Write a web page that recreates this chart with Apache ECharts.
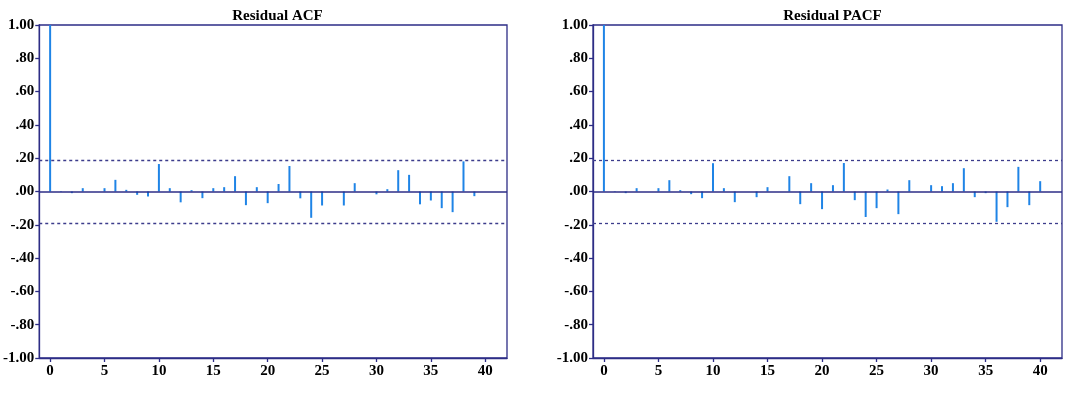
<!DOCTYPE html>
<html>
<head>
<meta charset="utf-8">
<script src="https://cdn.jsdelivr.net/npm/echarts@6/dist/echarts.min.js"></script>
<style>
  html, body { margin: 0; padding: 0; background: #fff; }
  #chart { width: 1070px; height: 397px; }
</style>
</head>
<body>
<div id="chart"></div>
<script>
// values
const acfLags = [0, 1, 2, 3, 4, 5, 6, 7, 8, 9, 10, 11, 12, 13, 14, 15, 16, 17, 18, 19,
  20, 21, 22, 23, 24, 25, 26, 27, 28, 29, 30, 31, 32, 33, 34, 35, 36, 37, 38, 39];
const acfValues = [1.00, 0.003, -0.01, 0.02, 0.0, 0.02, 0.07, 0.01, -0.02, -0.03,
  0.165, 0.02, -0.065, 0.008, -0.04, 0.02, 0.026, 0.092, -0.082, 0.026,
  -0.07, 0.045, 0.153, -0.041, -0.158, -0.084, 0.0, -0.084, 0.05, 0.0,
  -0.017, 0.014, 0.128, 0.10, -0.077, -0.054, -0.10, -0.124, 0.181, -0.028];

const pacfLags = [0, 1, 2, 3, 4, 5, 6, 7, 8, 9, 10, 11, 12, 13, 14, 15, 16, 17, 18, 19,
  20, 21, 22, 23, 24, 25, 26, 27, 28, 29, 30, 31, 32, 33, 34, 35, 36, 37, 38, 39, 40];
const pacfValues = [1.00, 0.003, -0.01, 0.02, 0.0, 0.02, 0.068, 0.008, -0.016, -0.04,
  0.17, 0.02, -0.064, 0.0, -0.034, 0.026, 0.0, 0.092, -0.076, 0.05,
  -0.106, 0.038, 0.171, -0.052, -0.153, -0.10, 0.012, -0.136, 0.068, 0.0,
  0.038, 0.032, 0.05, 0.14, -0.034, -0.01, -0.182, -0.094, 0.148, -0.082, 0.062];

const lagTicks = [0, 5, 10, 15, 20, 25, 30, 35, 40];
const confLimit = 0.19;
const titles = ['Residual ACF', 'Residual PACF'];

const NAVY = '#2d2d86';
const BAR = '#1f84e6';
const FONT = '"Liberation Serif", "Times New Roman", serif';

const fmtY = (v) => {
  let s = Math.abs(v).toFixed(2);
  if (s[0] === '0') s = s.slice(1);
  return (v < -1e-9 ? '-' : '') + s;
};

const grids = [
  { left: 38, top: 25, width: 469, height: 333 },
  { left: 593, top: 25, width: 469, height: 333 },
];

const chart = echarts.init(document.getElementById('chart'));

const xAxis = grids.map((g, i) => ({
  type: 'value',
  gridIndex: i,
  min: -1,
  max: 42,
  position: 'bottom',
  axisLine: { onZero: false, lineStyle: { color: NAVY, width: 1.3 } },
  axisTick: { show: true, customValues: lagTicks, length: 4, lineStyle: { color: NAVY, width: 1.3 } },
  axisLabel: {
    customValues: lagTicks, margin: 6,
    color: '#000', fontFamily: FONT, fontWeight: 'bold', fontSize: 15,
  },
  splitLine: { show: false },
}));

const yAxis = grids.map((g, i) => ({
  type: 'value',
  gridIndex: i,
  min: -1,
  max: 1,
  interval: 0.2,
  axisLine: { show: true, onZero: false, lineStyle: { color: NAVY, width: 1.3 } },
  axisTick: { show: true, length: 4, lineStyle: { color: NAVY, width: 1.3 } },
  axisLabel: {
    formatter: fmtY, margin: 5,
    color: '#000', fontFamily: FONT, fontWeight: 'bold', fontSize: 15,
  },
  splitLine: { show: false },
}));

const makeSeries = (lags, values, i) => ({
  type: 'bar',
  xAxisIndex: i,
  yAxisIndex: i,
  barWidth: 2,
  itemStyle: { color: BAR },
  data: lags.map((l, k) => [l, values[k]]),
  silent: true,
  markLine: {
    symbol: 'none',
    silent: true,
    label: { show: false },
    data: [
      { yAxis: 0, lineStyle: { color: NAVY, width: 1.5, type: 'solid' } },
      { yAxis: confLimit, lineStyle: { color: '#3c3c8c', width: 1.3, type: [3, 3] } },
      { yAxis: -confLimit, lineStyle: { color: '#3c3c8c', width: 1.3, type: [3, 3] } },
    ],
  },
});

chart.setOption({
  animation: false,
  title: grids.map((g, i) => ({
    text: titles[i],
    left: g.left + g.width / 2,
    textAlign: 'center',
    top: 4,
    textStyle: { fontFamily: FONT, fontWeight: 'bold', fontSize: 15, color: '#000' },
  })),
  grid: grids.map((g) => Object.assign({ show: true, borderColor: NAVY, borderWidth: 1.3, backgroundColor: '#fff' }, g)),
  xAxis,
  yAxis,
  series: [
    makeSeries(acfLags, acfValues, 0),
    makeSeries(pacfLags, pacfValues, 1),
  ],
});
</script>
</body>
</html>
